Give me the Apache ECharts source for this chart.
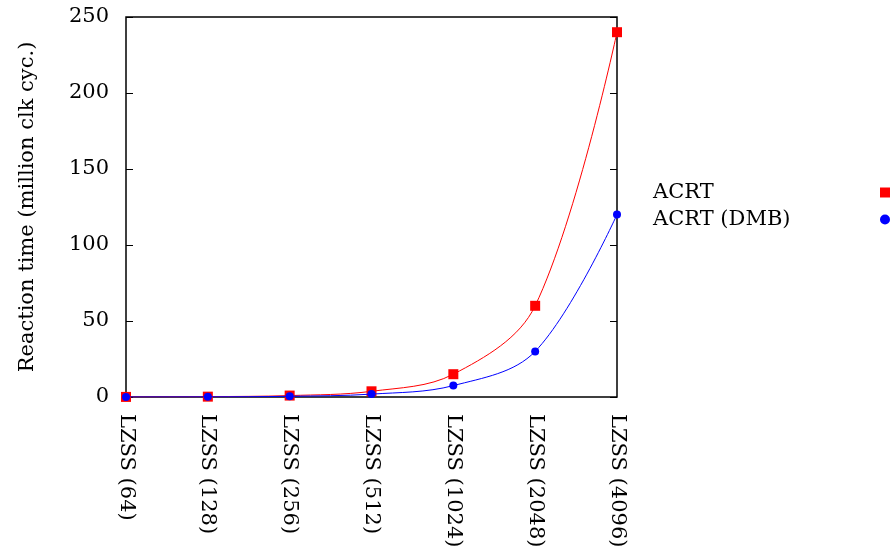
<!DOCTYPE html>
<html>
<head>
<meta charset="utf-8">
<script src="https://cdn.jsdelivr.net/npm/echarts@6/dist/echarts.min.js"></script>
<style>
html,body{margin:0;padding:0;background:#fff;}
#chart{width:892px;height:559px;}
</style>
</head>
<body>
<div id="chart"></div>
<script>
// Dictionary sizes of the LZSS runs
const categories = ['LZSS (64)', 'LZSS (128)', 'LZSS (256)', 'LZSS (512)', 'LZSS (1024)', 'LZSS (2048)', 'LZSS (4096)'];
// Reaction time, million clock cycles
const acrt = [0.06, 0.23, 0.94, 3.75, 15, 60, 240];
const acrtDmb = [0.03, 0.12, 0.47, 1.9, 7.5, 30, 120];
const yTicks = { min: 0, max: 250, interval: 50 };

const FONT = 'DejaVu Serif';
const FS = 21;
const chart = echarts.init(document.getElementById('chart'), null, { renderer: 'canvas' });

chart.setOption({
  animation: false,
  textStyle: { fontFamily: FONT, color: '#000' },
  grid: { left: 126, top: 17, width: 491, height: 380, show: true, borderColor: '#000', borderWidth: 1.5, backgroundColor: 'transparent' },
  legend: {
    orient: 'vertical',
    left: 653,
    top: 182,
    align: 'right',
    itemGap: 6,
    itemWidth: 10,
    itemHeight: 10,
    padding: 0,
    formatter: '{t|{name}}',
    textStyle: {
      fontFamily: FONT, fontSize: FS, color: '#000',
      rich: { t: { fontFamily: FONT, fontSize: FS, color: '#000', width: 222, align: 'left' } }
    },
    data: [
      { name: 'ACRT', icon: 'rect', itemStyle: { color: '#ff0000' } },
      { name: 'ACRT (DMB)', icon: 'circle', itemStyle: { color: '#0000ff' } }
    ]
  },
  xAxis: {
    type: 'category',
    data: categories,
    boundaryGap: false,
    axisLine: { show: false },
    axisTick: { show: false },
    splitLine: { show: false },
    axisLabel: { rotate: -90, margin: 17, fontFamily: FONT, fontSize: FS, color: '#000' }
  },
  yAxis: [
    {
      type: 'value',
      min: yTicks.min, max: yTicks.max, interval: yTicks.interval,
      name: 'Reaction time (million clk cyc.)',
      nameLocation: 'middle',
      nameGap: 88,
      nameTextStyle: { fontFamily: FONT, fontSize: FS, color: '#000' },
      axisLine: { show: false },
      axisTick: { show: true, inside: true, length: 7, lineStyle: { color: '#000', width: 1 } },
      splitLine: { show: false },
      axisLabel: { margin: 17, fontFamily: FONT, fontSize: FS, color: '#000' }
    },
    {
      type: 'value',
      position: 'right',
      min: yTicks.min, max: yTicks.max, interval: yTicks.interval,
      axisLine: { show: false },
      axisTick: { show: true, inside: true, length: 7, lineStyle: { color: '#000', width: 1 } },
      splitLine: { show: false },
      axisLabel: { show: false }
    }
  ],
  series: [
    {
      name: 'ACRT',
      type: 'line',
      data: acrt,
      smooth: 0.35,
      symbol: 'rect',
      symbolSize: 10,
      itemStyle: { color: '#ff0000' },
      lineStyle: { color: '#ff0000', width: 1 },
      z: 2
    },
    {
      name: 'ACRT (DMB)',
      type: 'line',
      data: acrtDmb,
      smooth: 0.35,
      symbol: 'circle',
      symbolSize: 8,
      itemStyle: { color: '#0000ff' },
      lineStyle: { color: '#0000ff', width: 1 },
      z: 3
    }
  ]
});
</script>
</body>
</html>
